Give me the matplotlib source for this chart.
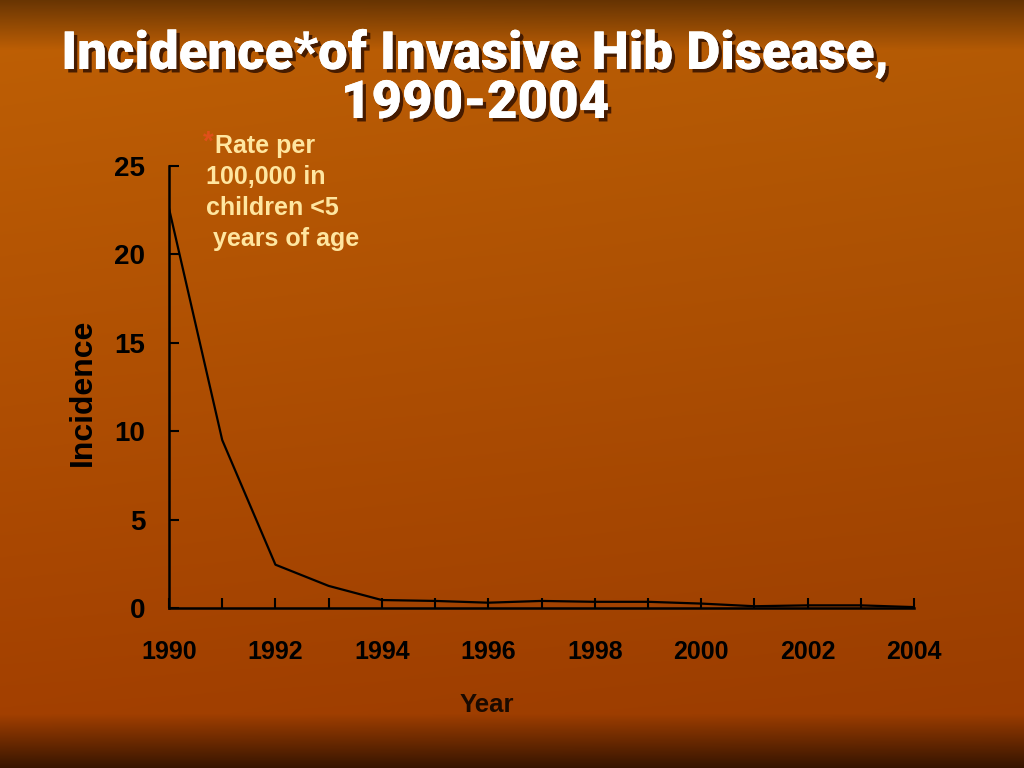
import numpy as np
import matplotlib
matplotlib.use("Agg")
import matplotlib.pyplot as plt
import matplotlib.patheffects as pe

years = [1990, 1991, 1992, 1993, 1994, 1995, 1996, 1997, 1998, 1999,
         2000, 2001, 2002, 2003, 2004]
incidence = [22.6, 9.5, 2.45, 1.25, 0.45, 0.4, 0.3, 0.4, 0.35, 0.35,
             0.25, 0.1, 0.15, 0.15, 0.05]
xtick_years = [1990, 1992, 1994, 1996, 1998, 2000, 2002, 2004]
ytick_vals = [0, 5, 10, 15, 20, 25]

title_lines = ["Incidence*of Invasive Hib Disease,", "1990-2004"]
note_lines = ["Rate per", "100,000 in", "children <5", " years of age"]

plt.rcParams['font.family'] = ['Liberation Sans', 'DejaVu Sans']

fig = plt.figure(figsize=(10.24, 7.68), dpi=100)

# background: orange gradient, darker bands at top and bottom
h, w = 768, 1024
yy = np.linspace(0, 1, h)[:, None]
xx = np.linspace(0, 1, w)[None, :]
top = np.array([0.75, 0.38, 0.02])
low = np.array([0.63, 0.24, 0.0])
base = top + (low - top) * yy[..., None] * np.ones((1, w, 1))
base = base * (1 - 0.05 * xx[..., None])
dark_top = np.clip(1 - yy / 0.065, 0, 1)[..., None] * 0.45
dark_bot = np.clip((yy - 0.93) / 0.07, 0, 1)[..., None] * 0.65
img = base * (1 - dark_top) * (1 - dark_bot)
bg = fig.add_axes([0, 0, 1, 1])
bg.imshow(np.clip(img, 0, 1), aspect='auto', extent=[0, 1, 0, 1])
bg.axis('off')

ax = fig.add_axes([169 / 1024, 1 - 608 / 768, (914 - 169) / 1024, (608 - 166) / 768])
ax.patch.set_alpha(0)
ax.plot(years, incidence, color='black', lw=1.6)
ax.set_xlim(1990, 2004)
ax.set_ylim(0, 25)
for s in ['top', 'right']:
    ax.spines[s].set_visible(False)
for s in ['left', 'bottom']:
    ax.spines[s].set_linewidth(1.8)
    ax.spines[s].set_color('black')
ax.set_xticks(years)
ax.set_xticklabels([str(y) if y in xtick_years else '' for y in years],
                   fontsize=18, fontweight='bold')
ax.set_yticks(ytick_vals)
ax.set_yticklabels([str(v) for v in ytick_vals], fontsize=20, fontweight='bold')
ax.tick_params(axis='x', direction='in', length=7, width=1.5, pad=23)
ax.tick_params(axis='y', direction='in', length=7, width=1.5, pad=17)

fig.text(83 / 1024, 1 - 392 / 768, "Incidence", rotation=90, fontsize=23,
         fontweight='bold', ha='center', va='center')
fig.text(487 / 1024, 1 - 705 / 768, "Year", fontsize=18.5, fontweight='bold',
         ha='center', va='center', color='#1a0a00')

# footnote
fig.text(203 / 1024, 1 - 143 / 768, "*", fontsize=20, color='#e0501a',
         ha='left', va='center', fontweight='bold')
for i, line in enumerate(note_lines):
    x0 = 215 if i == 0 else 206
    fig.text(x0 / 1024, 1 - (146 + 31 * i) / 768, line, fontsize=18,
             color='#ffe6a0', ha='left', va='center', fontweight='bold')

shadow = [pe.withSimplePatchShadow(offset=(2.5, -2.5), shadow_rgbFace='#3a1500', alpha=0.9),
          pe.Normal()]
for i, line in enumerate(title_lines):
    fig.text(475 / 1024, 1 - (69 + 49 * i) / 768, line, fontsize=38, fontweight='heavy',
             family=['Roboto', 'DejaVu Sans'], color='white', ha='center', va='baseline',
             path_effects=shadow)

fig.savefig("out.png", dpi=100)
